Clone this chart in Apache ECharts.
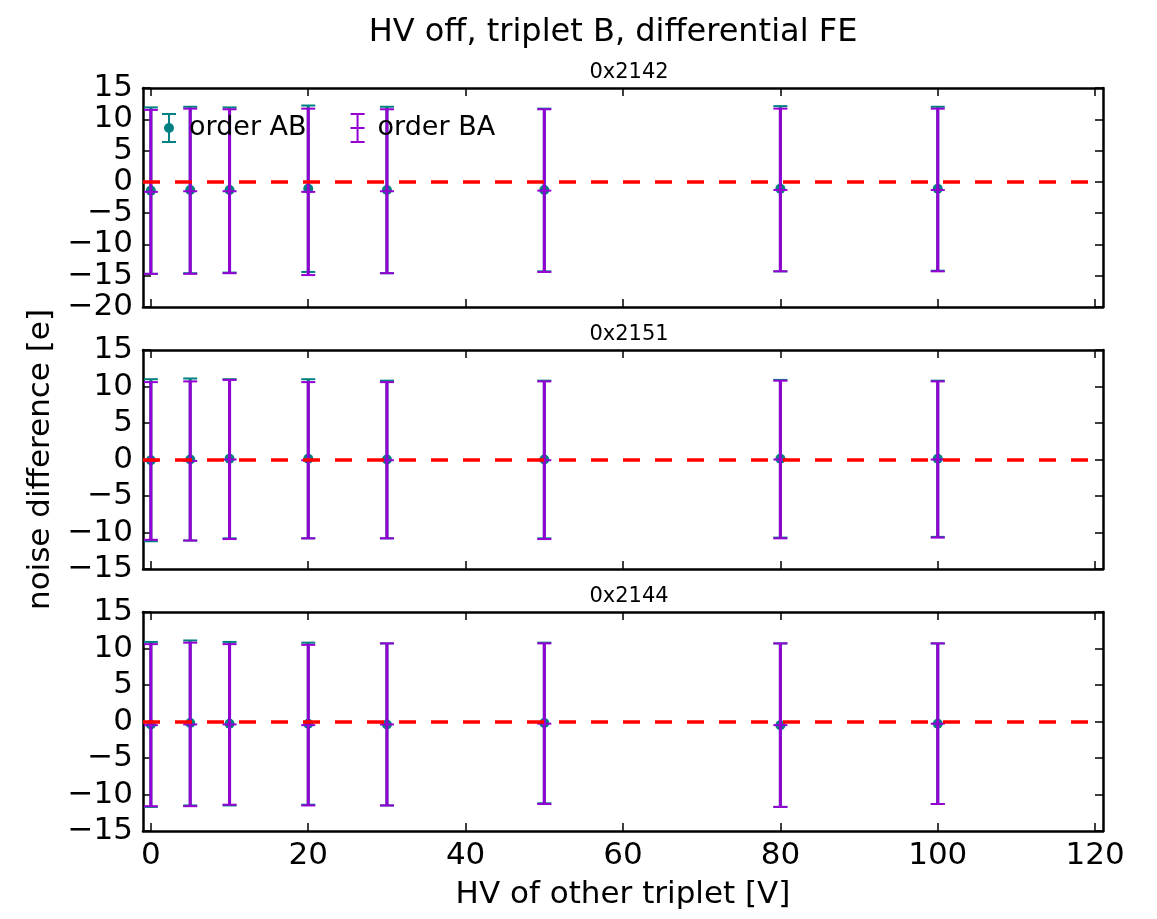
<!DOCTYPE html>
<html>
<head>
<meta charset="utf-8">
<script src="https://cdn.jsdelivr.net/npm/echarts@6/dist/echarts.min.js"></script>
<style>
  html, body { margin: 0; padding: 0; background: #fff; }
  #chart { width: 1157px; height: 919px; }
</style>
</head>
<body>
<div id="chart"></div>
<script>
// HV of the other triplet
const voltages = [0, 5, 10, 20, 30, 50, 80, 100];
const xTicks = [0, 20, 40, 60, 80, 100, 120];

const panelNames = ['0x2142', '0x2151', '0x2144'];

// mean noise difference and error, order AB
const abMean2142 = [-1.4, -1.3, -1.3, -1.1, -1.3, -1.3, -1.1, -1.1];
const abErr2142 = [13.3, 13.3, 13.2, 13.3, 13.3, 13.0, 13.2, 13.1];
const abMean2151 = [-0.1, 0.0, 0.1, 0.1, 0.0, 0.0, 0.1, 0.1];
const abErr2151 = [11.1, 11.1, 10.9, 10.9, 10.8, 10.8, 10.8, 10.7];
const abMean2144 = [-0.4, -0.2, -0.3, -0.3, -0.4, -0.2, -0.5, -0.3];
const abErr2144 = [11.3, 11.3, 11.2, 11.1, 11.1, 11.0, 11.2, 11.0];

// order BA
const baMean2142 = [-1.6, -1.5, -1.5, -1.6, -1.5, -1.4, -1.3, -1.3];
const baErr2142 = [13.1, 13.2, 13.1, 13.3, 13.1, 13.0, 13.0, 13.0];
const baMean2151 = [-0.2, -0.2, 0.0, -0.1, -0.1, -0.1, 0.0, 0.0];
const baErr2151 = [10.8, 10.9, 10.9, 10.7, 10.7, 10.8, 10.8, 10.7];
const baMean2144 = [-0.5, -0.4, -0.4, -0.5, -0.4, -0.3, -0.5, -0.3];
const baErr2144 = [11.1, 11.2, 11.0, 11.0, 11.1, 11.0, 11.2, 11.0];

const yRanges = [[-20, 15], [-15, 15], [-15, 15]];

const AB_COLOR = '#008080';
const BA_COLOR = '#9400d3';
const FONT = 'DejaVu Sans';

const abData = [[abMean2142, abErr2142], [abMean2151, abErr2151], [abMean2144, abErr2144]];
const baData = [[baMean2142, baErr2142], [baMean2151, baErr2151], [baMean2144, baErr2144]];

const grids = [
  { left: 143, right: 54, top: 88, height: 219 },
  { left: 143, right: 54, top: 350, height: 219 },
  { left: 143, right: 54, top: 612, height: 219 }
];

const minus = v => String(v).replace('-', '\u2212');

function toPoints(mean, err) {
  return voltages.map((x, i) => [x, mean[i], err[i]]);
}

function errorBarRenderer(color, withDot) {
  return function (params, api) {
    const x = api.value(0), m = api.value(1), e = api.value(2);
    const top = api.coord([x, m + e]);
    const bot = api.coord([x, m - e]);
    const mid = api.coord([x, m]);
    const cap = 7;
    const children = [
      { type: 'line', shape: { x1: top[0], y1: top[1], x2: bot[0], y2: bot[1] }, style: { stroke: color, lineWidth: 3 } },
      { type: 'line', shape: { x1: top[0] - cap, y1: top[1], x2: top[0] + cap, y2: top[1] }, style: { stroke: color, lineWidth: 2 } },
      { type: 'line', shape: { x1: bot[0] - cap, y1: bot[1], x2: bot[0] + cap, y2: bot[1] }, style: { stroke: color, lineWidth: 2 } }
    ];
    if (withDot) {
      children.push({ type: 'circle', shape: { cx: mid[0], cy: mid[1], r: 5 }, style: { fill: color } });
    } else {
      children.push({ type: 'line', shape: { x1: mid[0] - cap, y1: mid[1], x2: mid[0] + cap, y2: mid[1] }, style: { stroke: color, lineWidth: 2 } });
    }
    return { type: 'group', children: children };
  };
}

const xAxes = [], yAxes = [], series = [];
grids.forEach((g, i) => {
  const last = i === grids.length - 1;
  const tickStyle = { show: true, inside: true, length: 8, lineStyle: { color: '#000', width: 1.5 } };
  const lineStyle = { show: true, onZero: false, lineStyle: { color: '#000', width: 2.5 } };
  xAxes.push({
    type: 'value', gridIndex: i, position: 'bottom', min: -1, max: 121,
    axisLine: lineStyle, splitLine: { show: false },
    axisTick: Object.assign({ customValues: xTicks }, tickStyle),
    axisLabel: { show: last, customValues: xTicks, margin: 9, color: '#000', fontSize: 31, fontFamily: FONT },
    name: last ? 'HV of other triplet [V]' : '', nameLocation: 'middle', nameGap: 48,
    nameTextStyle: { color: '#000', fontSize: 31, fontFamily: FONT }
  });
  xAxes.push({
    type: 'value', gridIndex: i, position: 'top', min: -1, max: 121,
    axisLine: lineStyle, splitLine: { show: false },
    axisTick: Object.assign({ customValues: xTicks }, tickStyle),
    axisLabel: { show: false }
  });
  yAxes.push({
    type: 'value', gridIndex: i, position: 'left', min: yRanges[i][0], max: yRanges[i][1], interval: 5,
    axisLine: lineStyle, splitLine: { show: false }, axisTick: tickStyle,
    axisLabel: { margin: 10, color: '#000', fontSize: 31, fontFamily: FONT, formatter: minus },
    name: i === 1 ? 'noise difference [e]' : '', nameLocation: 'middle', nameGap: 86, nameRotate: 90,
    nameTextStyle: { color: '#000', fontSize: 31, fontFamily: FONT }
  });
  yAxes.push({
    type: 'value', gridIndex: i, position: 'right', min: yRanges[i][0], max: yRanges[i][1], interval: 5,
    axisLine: lineStyle, splitLine: { show: false }, axisTick: tickStyle,
    axisLabel: { show: false }
  });

  series.push({
    type: 'line', xAxisIndex: 2 * i, yAxisIndex: 2 * i, data: [], z: 1, silent: true,
    markLine: {
      silent: true, symbol: 'none', label: { show: false }, animation: false,
      lineStyle: { color: '#ff0000', type: [17, 15], width: 3.5 },
      data: [{ yAxis: 0 }]
    }
  });
  series.push({
    name: 'order AB', type: 'custom', xAxisIndex: 2 * i, yAxisIndex: 2 * i, z: 2,
    itemStyle: { color: AB_COLOR },
    encode: { x: 0, y: 1 },
    renderItem: errorBarRenderer(AB_COLOR, true),
    data: toPoints(abData[i][0], abData[i][1])
  });
  series.push({
    name: 'order BA', type: 'custom', xAxisIndex: 2 * i, yAxisIndex: 2 * i, z: 3,
    itemStyle: { color: BA_COLOR },
    encode: { x: 0, y: 1 },
    renderItem: errorBarRenderer(BA_COLOR, false),
    data: toPoints(baData[i][0], baData[i][1])
  });
});

const abIcon = 'path://M1 0H15V2H1ZM7 0H9V30H7ZM1 28H15V30H1ZM3 15A5 5 0 1 1 13 15A5 5 0 1 1 3 15Z';
const baIcon = 'path://M1 0H15V2H1ZM7 0H9V30H7ZM1 28H15V30H1ZM1 14H15V16H1Z';

const titles = [{
  text: 'HV off, triplet B, differential FE', left: 608, top: 12, textAlign: 'center',
  textStyle: { color: '#000', fontSize: 32, fontWeight: 'normal', fontFamily: FONT }
}];
panelNames.forEach((name, i) => {
  titles.push({
    text: name, left: 624, top: grids[i].top - 31, textAlign: 'center',
    textStyle: { color: '#000', fontSize: 21, fontWeight: 'normal', fontFamily: FONT }
  });
});

const chart = echarts.init(document.getElementById('chart'));
chart.setOption({
  animation: false,
  backgroundColor: '#fff',
  title: titles,
  grid: grids,
  xAxis: xAxes,
  yAxis: yAxes,
  legend: {
    left: 157, top: 108, itemWidth: 16, itemHeight: 30, itemGap: 44,
    selectedMode: false,
    data: [
      { name: 'order AB', icon: abIcon, itemStyle: { color: AB_COLOR } },
      { name: 'order BA', icon: baIcon, itemStyle: { color: BA_COLOR } }
    ],
    textStyle: { color: '#000', fontSize: 27, fontFamily: FONT, padding: [0, 0, 0, 7] }
  },
  series: series
});
</script>
</body>
</html>
